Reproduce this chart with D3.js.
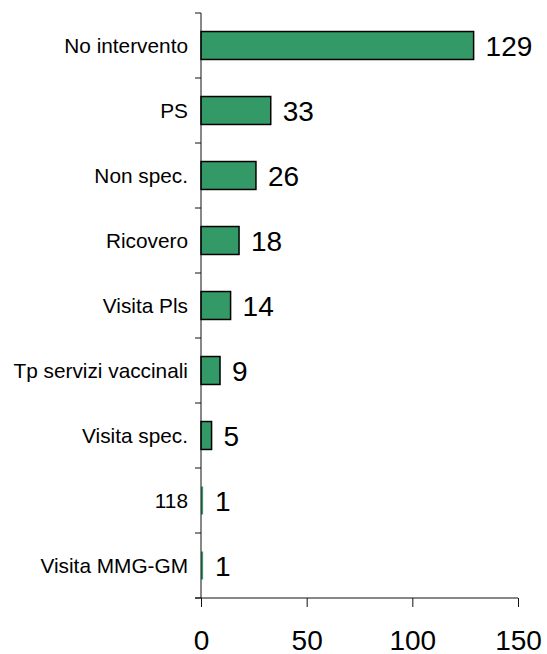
<!DOCTYPE html>
<html><head><meta charset="utf-8">
<script src="https://cdn.jsdelivr.net/npm/d3@7"></script>
<style>body{margin:0;background:#fff;} svg{display:block;}</style>
</head><body>
<script>
const categories = ["No intervento","PS","Non spec.","Ricovero","Visita Pls","Tp servizi vaccinali","Visita spec.","118","Visita MMG-GM"];
const values = [129,33,26,18,14,9,5,1,1];
const xTicks = [0,50,100,150];

const W = 547, H = 654;
const svg = d3.select("body").append("svg").attr("width",W).attr("height",H);
const x = d3.scaleLinear().domain([0,150]).range([201,518]);
const y = d3.scaleBand().domain(categories).range([13,598]).paddingInner(0.57).paddingOuter(0.285);
const font = "Liberation Sans, Arial, sans-serif";

// bars
svg.selectAll("rect.bar").data(values).enter().append("rect")
  .attr("x", x(0)).attr("y",(d,i)=>y(categories[i]))
  .attr("width", d=>x(d)-x(0)).attr("height", y.bandwidth())
  .attr("fill","#339966")
  .attr("stroke", d=>(x(d)-x(0))<4 ? "none" : "#000").attr("stroke-width",1.5);

// value labels
svg.selectAll("text.val").data(values).enter().append("text")
  .attr("x", d=>x(d)+12).attr("y",(d,i)=>y(categories[i])+y.bandwidth()/2)
  .attr("dy","0.36em").attr("font-family",font).attr("font-size",28).attr("fill","#000")
  .text(d=>d);

// y axis line and ticks at band boundaries
const g = svg.append("g").attr("stroke","#111").attr("stroke-width",1);
g.append("line").attr("x1",x(0)).attr("x2",x(0)).attr("y1",13).attr("y2",598);
const step = y.step();
d3.range(categories.length+1).forEach(i=>{
  const yy = 13 + i*step;
  g.append("line").attr("x1",x(0)-6).attr("x2",x(0)).attr("y1",yy).attr("y2",yy);
});
// category labels
svg.selectAll("text.cat").data(categories).enter().append("text")
  .attr("x", x(0)-13).attr("y", d=>y(d)+y.bandwidth()/2).attr("dy","0.35em")
  .attr("text-anchor","end").attr("font-family",font).attr("font-size",20.8).attr("fill","#000")
  .text(d=>d);

// x axis
const xa = svg.append("g").attr("transform","translate(0,598)").call(
  d3.axisBottom(x).tickValues(xTicks).tickSize(9).tickSizeOuter(0).tickPadding(23));
xa.select(".domain").attr("d", `M${x(0)-6},0H${x(150)}`).attr("stroke","#111");
xa.selectAll(".tick line").attr("stroke","#111");
xa.selectAll(".tick text").attr("font-family",font).attr("font-size",28).attr("fill","#000");
</script>
</body></html>
